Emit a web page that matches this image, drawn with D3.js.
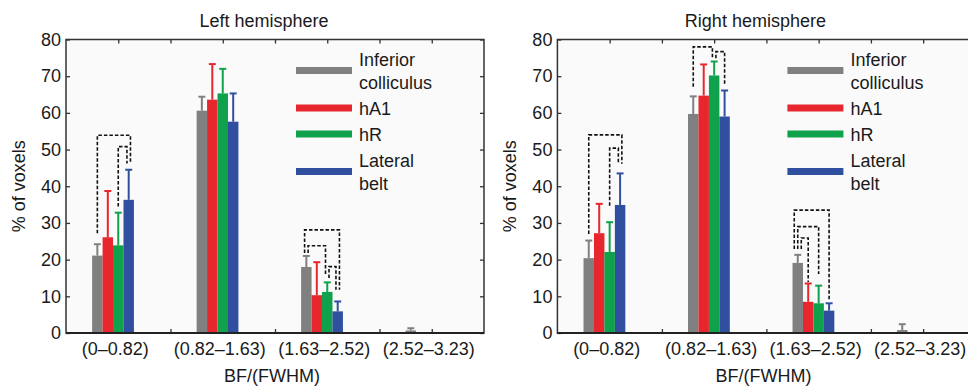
<!DOCTYPE html>
<html>
<head>
<meta charset="utf-8">
<script src="https://cdnjs.cloudflare.com/ajax/libs/d3/7.8.5/d3.min.js"></script>
<style>
  body { margin: 0; background: #fff; }
  svg { display: block; font-family: "Liberation Sans", Arial, sans-serif; }
</style>
</head>
<body>
<svg id="chart"></svg>
<script>
// categories / series
var categories = ["(0\u20130.82)", "(0.82\u20131.63)", "(1.63\u20132.52)", "(2.52\u20133.23)"];
var seriesNames = ["Inferior colliculus", "hA1", "hR", "Lateral belt"];
var seriesColors = ["#808080", "#e8262d", "#0fa14b", "#30509f"];
var yTicks = [0, 10, 20, 30, 40, 50, 60, 70, 80];

// left hemisphere: means and error sizes
var leftIC = [21.1, 60.6, 18.0, 0.7];
var leftIC_err = [3.1, 3.8, 3.0, 0.6];
var leftA1 = [26.1, 63.6, 10.3, 0];
var leftA1_err = [12.6, 9.7, 9.0, 0];
var leftR = [23.9, 65.3, 11.2, 0];
var leftR_err = [8.9, 6.7, 2.6, 0];
var leftLB = [36.3, 57.6, 5.9, 0];
var leftLB_err = [8.2, 7.7, 2.7, 0];

// right hemisphere
var rightIC = [20.4, 59.7, 19.1, 0.8];
var rightIC_err = [4.8, 4.8, 2.2, 1.6];
var rightA1 = [27.2, 64.7, 8.5, 0];
var rightA1_err = [8.0, 8.5, 5.0, 0];
var rightR = [22.1, 70.2, 8.1, 0];
var rightR_err = [8.1, 3.8, 4.8, 0];
var rightLB = [34.9, 59.0, 6.1, 0];
var rightLB_err = [8.6, 7.1, 2.0, 0];

// significance brackets: [group, fromSeries, toSeries, top, leftLegEnd, rightLegEnd]
var leftBrackets = [
    [0, 0, 3, 53.9, 27.2, 46.2],
    [0, 2, 3, 50.8, 34.5, 46.2],
    [2, 0, 3, 28.1, 21.8, 11.8],
    [2, 0, 2, 23.8, 21.8, 16.0],
    [2, 2, 3, 18.1, 15.0, 11.8]
];
var rightBrackets = [
    [0, 0, 3, 54.0, 27.0, 46.1],
    [0, 2, 3, 50.4, 34.7, 46.1],
    [1, 0, 2, 78.0, 67.1, 74.9],
    [1, 2, 3, 76.7, 74.9, 67.6],
    [2, 0, 3, 33.5, 22.9, 8.8],
    [2, 0, 2, 29.0, 22.9, 16.1],
    [2, 0, 1, 25.9, 22.9, 13.9]
];

var svgWidth = 968, svgHeight = 387;
var svg = d3.select("#chart")
    .attr("width", svgWidth)
    .attr("height", svgHeight);

function drawPanel(opts) {
    var left = opts.left, plotW = 418;
    var top = 39.5, bottom = 333;

    var x = d3.scaleLinear().domain([0.5, 4.5]).range([left, left + plotW]);
    var y = d3.scaleLinear().domain([0, 80]).range([bottom, top]);
    var barW = x(0.6) - x(0.5);

    var g = svg.append("g");

    g.append("rect")
        .attr("x", x(0.5)).attr("y", top)
        .attr("width", plotW).attr("height", bottom - top)
        .attr("fill", "#fafafa");

    var xTickVals = d3.range(1, 9).map(function(d) { return 0.5 + d * 0.5; }).filter(function(d) { return d < 4.5; });

    // inward ticks on all four sides
    var axes = [
        g.append("g").attr("transform", "translate(" + left + ",0)")
            .call(d3.axisLeft(y).tickValues(yTicks).tickSize(-4).tickPadding(5)),
        g.append("g").attr("transform", "translate(" + (left + plotW) + ",0)")
            .call(d3.axisRight(y).tickValues(yTicks).tickSize(-4).tickFormat("")),
        g.append("g").attr("transform", "translate(0," + bottom + ")")
            .call(d3.axisBottom(x).tickValues(xTickVals).tickSize(-4).tickFormat("")),
        g.append("g").attr("transform", "translate(0," + top + ")")
            .call(d3.axisTop(x).tickValues(xTickVals).tickSize(-4).tickFormat(""))
    ];
    axes.forEach(function(a) {
        a.select(".domain").remove();
        a.selectAll(".tick line").attr("stroke", "#333").attr("stroke-width", 1.3);
        a.selectAll(".tick text")
            .attr("font-size", "18px")
            .attr("font-family", "Liberation Sans, Arial, sans-serif")
            .attr("fill", "#1a1a1a");
    });

    // bars
    var bars = [];
    opts.means.forEach(function(vals, s) {
        vals.forEach(function(v, c) {
            var cx = (c + 1) - 0.05 + (s - 1.5) * 0.1;
            bars.push({ s: s, c: c, cx: cx, v: v, e: opts.errs[s][c] });
        });
    });

    g.selectAll(".bar")
        .data(bars.filter(function(d) { return d.v > 0; }))
        .enter().append("rect")
        .attr("x", function(d) { return x(d.cx - 0.05); })
        .attr("y", function(d) { return y(d.v); })
        .attr("width", barW)
        .attr("height", function(d) { return y(0) - y(d.v); })
        .attr("fill", function(d) { return seriesColors[d.s]; });

    var eb = g.selectAll(".err")
        .data(bars.filter(function(d) { return d.e > 0; }))
        .enter().append("g")
        .attr("stroke", function(d) { return seriesColors[d.s]; })
        .attr("stroke-width", 2);
    eb.append("line")
        .attr("x1", function(d) { return x(d.cx); })
        .attr("x2", function(d) { return x(d.cx); })
        .attr("y1", function(d) { return y(d.v); })
        .attr("y2", function(d) { return y(d.v + d.e); });
    eb.append("line")
        .attr("x1", function(d) { return x(d.cx) - 3.5; })
        .attr("x2", function(d) { return x(d.cx) + 3.5; })
        .attr("y1", function(d) { return y(d.v + d.e); })
        .attr("y2", function(d) { return y(d.v + d.e); });

    // brackets: stagger legs that share the same bar
    var legs = {};
    opts.brackets.forEach(function(b, i) {
        var kf = b[0] + "_" + b[1], kt = b[0] + "_" + b[2];
        (legs[kf] = legs[kf] || []).push({ i: i, end: "L", span: b[2] - b[1] });
        (legs[kt] = legs[kt] || []).push({ i: i, end: "R", span: b[2] - b[1] });
    });
    var legX = {};
    Object.keys(legs).forEach(function(k) {
        var list = legs[k];
        var rs = list.filter(function(d) { return d.end === "R"; }).sort(function(a, b) { return a.span - b.span; });
        var ls = list.filter(function(d) { return d.end === "L"; }).sort(function(a, b) { return b.span - a.span; });
        var all = rs.concat(ls);
        all.forEach(function(d, k2) {
            legX[d.i + d.end] = (k2 - (all.length - 1) / 2) * 3.5;
        });
    });
    function barCenter(c, s) { return x((c + 1) - 0.05 + (s - 1.5) * 0.1); }

    g.selectAll(".bracket")
        .data(opts.brackets)
        .enter().append("path")
        .attr("fill", "none")
        .attr("stroke", "#111")
        .attr("stroke-width", 1.6)
        .attr("stroke-dasharray", "3.5,2")
        .attr("d", function(b, i) {
            var xl = barCenter(b[0], b[1]) + legX[i + "L"];
            var xr = barCenter(b[0], b[2]) + legX[i + "R"];
            return "M" + xl + "," + y(b[4]) + "V" + y(b[3]) + "H" + xr + "V" + y(b[5]);
        });

    // frame
    g.append("rect")
        .attr("x", x(0.5)).attr("y", top)
        .attr("width", plotW).attr("height", bottom - top)
        .attr("fill", "none")
        .attr("stroke", "#333")
        .attr("stroke-width", 1.5);
    g.append("line")
        .attr("x1", x(0.5)).attr("x2", x(4.5))
        .attr("y1", bottom).attr("y2", bottom)
        .attr("stroke", "#222").attr("stroke-width", 2.2);

    // category labels
    g.selectAll(".cat")
        .data(categories)
        .enter().append("text")
        .attr("x", function(d, i) { return x(i + 1) - 3; })
        .attr("y", 355)
        .attr("text-anchor", "middle")
        .attr("font-size", "18px")
        .attr("fill", "#1a1a1a")
        .text(function(d) { return d; });

    var cx = left + plotW / 2;
    g.append("text")
        .attr("x", cx - 11).attr("y", 27)
        .attr("text-anchor", "middle")
        .attr("font-size", "18px")
        .attr("fill", "#1a1a1a")
        .text(opts.title);

    g.append("text")
        .attr("x", cx - 3).attr("y", 382)
        .attr("text-anchor", "middle")
        .attr("font-size", "18px")
        .attr("fill", "#1a1a1a")
        .text("BF/(FWHM)");

    g.append("text")
        .attr("transform", "translate(" + (left - 41.5) + "," + ((top + bottom) / 2) + ") rotate(-90)")
        .attr("text-anchor", "middle")
        .attr("font-size", "18px")
        .attr("fill", "#1a1a1a")
        .text("% of voxels");

    // legend
    var lineH = 23, cy = top + 31, prevLines = 0;
    seriesNames.forEach(function(name, s) {
        var lines = name.split(" ");
        if (s > 0) cy += (prevLines + lines.length) * lineH / 2 + 3;
        prevLines = lines.length;
        g.append("line")
            .attr("x1", left + 230).attr("x2", left + 286)
            .attr("y1", cy).attr("y2", cy)
            .attr("stroke", seriesColors[s])
            .attr("stroke-width", 7);
        lines.forEach(function(t, j) {
            g.append("text")
                .attr("x", left + 293)
                .attr("y", cy + (j - (lines.length - 1) / 2) * lineH + 6.5)
                .attr("font-size", "18px")
                .attr("fill", "#1a1a1a")
                .text(t);
        });
    });
}

drawPanel({
    left: 66, title: "Left hemisphere",
    means: [leftIC, leftA1, leftR, leftLB],
    errs: [leftIC_err, leftA1_err, leftR_err, leftLB_err],
    brackets: leftBrackets
});
drawPanel({
    left: 557.4, title: "Right hemisphere",
    means: [rightIC, rightA1, rightR, rightLB],
    errs: [rightIC_err, rightA1_err, rightR_err, rightLB_err],
    brackets: rightBrackets
});
</script>
</body>
</html>
